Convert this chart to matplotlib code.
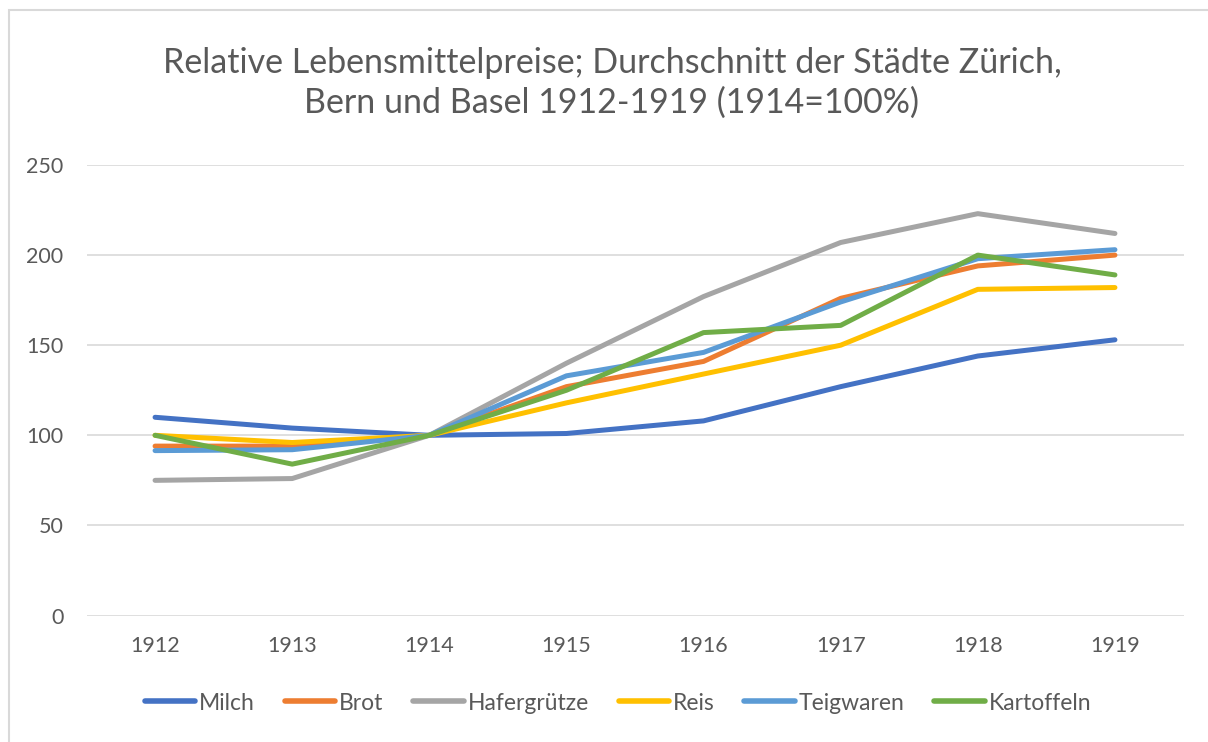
import matplotlib
matplotlib.use("Agg")
import matplotlib.pyplot as plt
from matplotlib.patches import Rectangle

years = ["1912", "1913", "1914", "1915", "1916", "1917", "1918", "1919"]
milch = [110, 104, 100, 101, 108, 127, 144, 153]
brot = [94, 94, 100, 127, 141, 176, 194, 200]
hafer = [75, 76, 100, 140, 177, 207, 223, 212]
reis = [100, 96, 100, 118, 134, 150, 181, 182]
teig = [91.5, 92, 100, 133, 146, 174, 198, 203]
kartoffeln = [100, 84, 100, 125, 157, 161, 200, 189]

series = [
    ("Milch", milch, "#4472C4"),
    ("Brot", brot, "#ED7D31"),
    ("Hafergrütze", hafer, "#A5A5A5"),
    ("Reis", reis, "#FFC000"),
    ("Teigwaren", teig, "#5B9BD5"),
    ("Kartoffeln", kartoffeln, "#70AD47"),
]

plt.rcParams['font.family'] = ['Lato', 'DejaVu Sans']
txt = "#595959"

fig = plt.figure(figsize=(12.08, 7.42), dpi=100)
fig.patches.append(Rectangle((9/1208, -0.1), 1.2, 1.1 - 10/742, transform=fig.transFigure,
                             fill=False, edgecolor="#D9D9D9", linewidth=1.5))
ax = fig.add_axes([86.5/1208, 1-615.5/742, (1183.5-86.5)/1208, (615.5-165)/742])

x = list(range(len(years)))
for name, vals, col in series:
    ax.plot(x, vals, color=col, linewidth=3.6, label=name, solid_capstyle="round", solid_joinstyle="round")

ax.set_xlim(-0.5, len(years) - 0.5)
ax.set_ylim(0, 250)
ax.set_yticks(range(0, 251, 50))
ax.set_xticks(x)
ax.set_xticklabels(years)
ax.grid(axis="y", color="#D9D9D9", linewidth=1.2)
ax.set_axisbelow(True)
for s in ax.spines.values():
    s.set_visible(False)
ax.tick_params(length=0, colors=txt, labelsize=15.5)
ax.tick_params(axis="y", pad=16.5)
ax.tick_params(axis="x", pad=14.5)

fig.text(612/1208, 1-83/742, "Relative Lebensmittelpreise; Durchschnitt der Städte Zürich,\nBern und Basel 1912-1919 (1914=100%)",
         ha="center", va="center", fontsize=24.5, color=txt, linespacing=1.32)

leg = fig.legend(loc="center", bbox_to_anchor=(618/1208, 1-703/742), ncol=6, frameon=False,
                 fontsize=16.5, handlelength=2.2, handletextpad=0.17, columnspacing=1.3)
for t in leg.get_texts():
    t.set_color(txt)
for h in leg.get_lines():
    h.set_linewidth(4)
    h.set_solid_capstyle("round")

fig.savefig("out.png", dpi=100)
